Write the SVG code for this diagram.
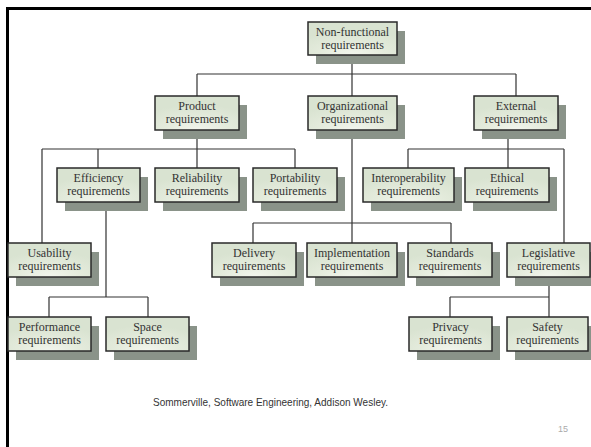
<svg xmlns="http://www.w3.org/2000/svg" width="591" height="447" viewBox="0 0 591 447">
<defs>
<radialGradient id="g" cx="50%" cy="100%" r="75%">
<stop offset="0" stop-color="#f3f6ee"/>
<stop offset="0.5" stop-color="#e4ebdc"/>
<stop offset="1" stop-color="#d9e3d1"/>
</radialGradient>
</defs>
<style>
.sh{fill:#8a9389}
.bx{fill:url(#g);stroke:#2a2a2a;stroke-width:1.5}
.t{font-family:"Liberation Serif","Times New Roman",serif;font-size:12px;fill:#333;text-anchor:middle}
.c{fill:none;stroke:#333;stroke-width:1.2}
</style>
<rect width="591" height="447" fill="#fff"/>
<path d="M7.5 447V8.5H591" fill="none" stroke="#000" stroke-width="3"/>
<g id="connectors" class="c">
<path d="M352 55V74M197 74H516M197 74V96M352 74V96M516 74V96"/>
<path d="M197 130V149M42 149H295M42 149V243M98 149V168M197 149V168M295 149V168"/>
<path d="M352 130V243M253 223H451M253 223V243M451 223V243"/>
<path d="M508 130V149M408 149H564M408 149V168M508 149V168M564 149V243"/>
<path d="M106 202V297M49 297H148M49 297V317M148 297V317"/>
<path d="M549 277V317M450 297H549M450 297V317"/>
</g>
<g id="n-nonfunctional"><rect class="sh" x="316" y="31" width="89" height="33"/><rect class="bx" x="308" y="22" width="89" height="33"/><text class="t" x="352.5" y="36">Non-functional</text><text class="t" x="352.5" y="49">requirements</text></g>
<g id="n-product"><rect class="sh" x="163" y="105" width="84" height="34"/><rect class="bx" x="155" y="96" width="84" height="34"/><text class="t" x="197" y="110">Product</text><text class="t" x="197" y="123">requirements</text></g>
<g id="n-organizational"><rect class="sh" x="316" y="105" width="89" height="34"/><rect class="bx" x="308" y="96" width="89" height="34"/><text class="t" x="352.5" y="110">Organizational</text><text class="t" x="352.5" y="123">requirements</text></g>
<g id="n-external"><rect class="sh" x="482" y="105" width="84" height="34"/><rect class="bx" x="474" y="96" width="84" height="34"/><text class="t" x="516" y="110">External</text><text class="t" x="516" y="123">requirements</text></g>
<g id="n-efficiency"><rect class="sh" x="65" y="177" width="83" height="34"/><rect class="bx" x="57" y="168" width="83" height="34"/><text class="t" x="98.5" y="182">Efficiency</text><text class="t" x="98.5" y="195">requirements</text></g>
<g id="n-reliability"><rect class="sh" x="163" y="177" width="84" height="34"/><rect class="bx" x="155" y="168" width="84" height="34"/><text class="t" x="197" y="182">Reliability</text><text class="t" x="197" y="195">requirements</text></g>
<g id="n-portability"><rect class="sh" x="261" y="177" width="84" height="34"/><rect class="bx" x="253" y="168" width="84" height="34"/><text class="t" x="295" y="182">Portability</text><text class="t" x="295" y="195">requirements</text></g>
<g id="n-interoperability"><rect class="sh" x="371" y="177" width="91" height="34"/><rect class="bx" x="363" y="168" width="91" height="34"/><text class="t" x="408.5" y="182">Interoperability</text><text class="t" x="408.5" y="195">requirements</text></g>
<g id="n-ethical"><rect class="sh" x="473" y="177" width="84" height="34"/><rect class="bx" x="465" y="168" width="84" height="34"/><text class="t" x="507" y="182">Ethical</text><text class="t" x="507" y="195">requirements</text></g>
<g id="n-usability"><rect class="sh" x="16" y="252" width="83" height="34"/><rect class="bx" x="8" y="243" width="83" height="34"/><text class="t" x="49.5" y="257">Usability</text><text class="t" x="49.5" y="270">requirements</text></g>
<g id="n-delivery"><rect class="sh" x="220" y="252" width="84" height="34"/><rect class="bx" x="212" y="243" width="84" height="34"/><text class="t" x="254" y="257">Delivery</text><text class="t" x="254" y="270">requirements</text></g>
<g id="n-implementation"><rect class="sh" x="315" y="252" width="90" height="34"/><rect class="bx" x="307" y="243" width="90" height="34"/><text class="t" x="352" y="257">Implementation</text><text class="t" x="352" y="270">requirements</text></g>
<g id="n-standards"><rect class="sh" x="416" y="252" width="84" height="34"/><rect class="bx" x="408" y="243" width="84" height="34"/><text class="t" x="450" y="257">Standards</text><text class="t" x="450" y="270">requirements</text></g>
<g id="n-legislative"><rect class="sh" x="515" y="252" width="83" height="34"/><rect class="bx" x="507" y="243" width="83" height="34"/><text class="t" x="548.5" y="257">Legislative</text><text class="t" x="548.5" y="270">requirements</text></g>
<g id="n-performance"><rect class="sh" x="16" y="326" width="83" height="34"/><rect class="bx" x="8" y="317" width="83" height="34"/><text class="t" x="49.5" y="331">Performance</text><text class="t" x="49.5" y="344">requirements</text></g>
<g id="n-space"><rect class="sh" x="114" y="326" width="83" height="34"/><rect class="bx" x="106" y="317" width="83" height="34"/><text class="t" x="147.5" y="331">Space</text><text class="t" x="147.5" y="344">requirements</text></g>
<g id="n-privacy"><rect class="sh" x="417" y="326" width="83" height="34"/><rect class="bx" x="409" y="317" width="83" height="34"/><text class="t" x="450.5" y="331">Privacy</text><text class="t" x="450.5" y="344">requirements</text></g>
<g id="n-safety"><rect class="sh" x="515" y="326" width="81" height="34"/><rect class="bx" x="507" y="317" width="81" height="34"/><text class="t" x="547.5" y="331">Safety</text><text class="t" x="547.5" y="344">requirements</text></g>
<text x="153" y="406" font-family="'Liberation Sans',Arial,sans-serif" font-size="10.5" fill="#333" textLength="235" lengthAdjust="spacingAndGlyphs">Sommerville, Software Engineering, Addison Wesley.</text>
<text x="558" y="432" font-family="'Liberation Sans',Arial,sans-serif" font-size="9" fill="#aaa">15</text>
</svg>
